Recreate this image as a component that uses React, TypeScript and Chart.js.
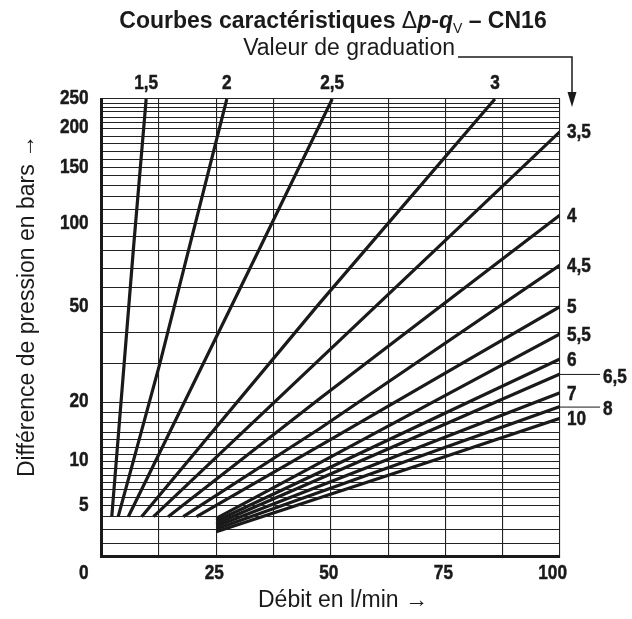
import React, { useEffect, useRef } from 'react';
import { Chart, LinearScale, registerables } from 'chart.js';

// ---------------- data ----------------
// Graduation values (curve labels)
const GRADUATIONS = ['1,5', '2', '2,5', '3', '3,5', '4', '4,5', '5', '5,5', '6', '6,5', '7', '8', '10'];

// Flow q_V (l/min) and pressure difference Δp (bar) for each curve
const Q_1_5 = [2.2, 6.9, 9.7];
const P_1_5 = [4, 80.7, 250];
const Q_2 = [3.6, 12.7, 27.3];
const P_2 = [4, 30.2, 250];
const Q_2_5 = [5.8, 34.3, 50.3];
const P_2_5 = [4, 80.7, 250];
const Q_3 = [8.7, 47.6, 85.8];
const P_3 = [4, 52.1, 250];
const Q_3_5 = [11.3, 75.1, 100];
const P_3_5 = [4, 87.9, 195.9];
const Q_4 = [14.5, 47.6, 100];
const P_4 = [4, 21.0, 106.1];
const Q_4_5 = [17.8, 47.6, 100];
const P_4_5 = [4, 14.8, 71.9];
const Q_5 = [20.7, 50, 100];
const P_5 = [4, 13.1, 50.2];
const Q_5_5 = [25, 75, 100];
const P_5_5 = [3.88, 21.8, 39.7];
const Q_6 = [25, 75, 100];
const P_6 = [3.68, 18.0, 31.6];
const Q_6_5 = [25, 75, 100];
const P_6_5 = [3.47, 15.7, 27.4];
const Q_7 = [25, 75, 100];
const P_7 = [3.28, 13.4, 22.5];
const Q_8 = [25, 75, 100];
const P_8 = [3.08, 12.0, 19.2];
const Q_10 = [25, 75, 100];
const P_10 = [2.87, 10.7, 16.9];

const SERIES_Q = [Q_1_5, Q_2, Q_2_5, Q_3, Q_3_5, Q_4, Q_4_5, Q_5, Q_5_5, Q_6, Q_6_5, Q_7, Q_8, Q_10];
const SERIES_P = [P_1_5, P_2, P_2_5, P_3, P_3_5, P_4, P_4_5, P_5, P_5_5, P_6, P_6_5, P_7, P_8, P_10];

// Labels placed at the end of a leader line
const LEADER_LABELS = ['6,5', '8'];

// Axis ticks
const X_TICK_LABELS = [0, 25, 50, 75, 100];
const X_GRID_STEP = 12.5;
const Y_TICK_LABELS = [5, 10, 20, 50, 100, 150, 200, 250];
const Y_GRID_VALUES = [1, 2, 3, 4, 5, 5.5, 6, 7, 8, 9, 10, 11, 12, 13, 14, 16, 18, 20, 30, 40, 50, 60, 70, 80, 90, 100,
  110, 120, 130, 140, 150, 160, 170, 180, 190, 200, 210, 220, 230, 240, 245, 250];

// ---------------- nomogram (non-linear) pressure scale ----------------
// Relative height of each grid value on the printed pressure axis (0 = bottom, 1 = top)
const Y_SCALE_FRACTIONS = [0, .0289, .0579, .0870, .1104, .1290, .1464, .1617, .1770, .1923, .2077, .2234, .2387, .2546,
  .2710, .2929, .3137, .3370, .4208, .4885, .5454, .5880, .6299, .6678, .6984, .7268, .7589, .7869, .8109, .8317,
  .8498, .8667, .8848, .9016, .9180, .9360, .9482, .9596, .9716, .9814, .9908, 1];

function valueToDecimal(v: number): number {
  const vs = Y_GRID_VALUES, fs = Y_SCALE_FRACTIONS;
  const n = vs.length - 1;
  let i = 1;
  if (v > vs[n]) i = n;
  else while (i < n && v > vs[i]) i++;
  const t = (v - vs[i - 1]) / (vs[i] - vs[i - 1]);
  return fs[i - 1] + t * (fs[i] - fs[i - 1]);
}
function decimalToValue(d: number): number {
  const vs = Y_GRID_VALUES, fs = Y_SCALE_FRACTIONS;
  const n = fs.length - 1;
  let i = 1;
  if (d > fs[n]) i = n;
  else while (i < n && d > fs[i]) i++;
  const t = (d - fs[i - 1]) / (fs[i] - fs[i - 1]);
  return vs[i - 1] + t * (vs[i] - vs[i - 1]);
}

class NomogramScale extends LinearScale {
  static id = 'nomogram';
  static defaults = {};
  buildTicks() {
    return Y_GRID_VALUES.map((value) => ({ value }));
  }
  getPixelForValue(value: number) {
    return this.getPixelForDecimal(valueToDecimal(value));
  }
  getValueForPixel(pixel: number) {
    return decimalToValue(this.getDecimalForPixel(pixel));
  }
}

Chart.register(...registerables, NomogramScale);

const SANS = "'Liberation Sans', Arial, Helvetica, sans-serif";
const INK = '#1a1a1a';
const NARROW_FONT = `bold 21px ${SANS}`;
const NARROW_SCALE = 0.82;

function narrowText(ctx: CanvasRenderingContext2D, text: string, x: number, y: number, align: CanvasTextAlign) {
  ctx.save();
  ctx.translate(x, y);
  ctx.scale(NARROW_SCALE, 1);
  ctx.font = NARROW_FONT;
  ctx.textAlign = align;
  ctx.textBaseline = 'middle';
  ctx.lineWidth = 0.5;
  ctx.lineJoin = 'round';
  ctx.fillText(text, 0, 0);
  ctx.strokeText(text, 0, 0);
  ctx.restore();
}

const annotations = {
  id: 'annotations',
  afterDraw(chart: any) {
    const ctx: CanvasRenderingContext2D = chart.ctx;
    const { left, right, top, bottom } = chart.chartArea;
    const xs = chart.scales.x;
    const ys = chart.scales.y;
    ctx.save();
    ctx.fillStyle = INK;
    ctx.strokeStyle = INK;

    // curve labels
    chart.data.datasets.forEach((ds: any) => {
      const last = ds.data[ds.data.length - 1];
      const px = xs.getPixelForValue(last.x);
      const py = ys.getPixelForValue(last.y);
      if (last.x < xs.max) {
        narrowText(ctx, ds.label, px, top - 16, 'center');
      } else if (LEADER_LABELS.includes(ds.label)) {
        ctx.lineWidth = 1;
        ctx.beginPath();
        ctx.moveTo(right, py + 0.5);
        ctx.lineTo(right + 40, py + 0.5);
        ctx.stroke();
        narrowText(ctx, ds.label, right + 43, py + 3, 'left');
      } else {
        narrowText(ctx, ds.label, right + 7, py + 1, 'left');
      }
    });

    // y tick labels
    Y_TICK_LABELS.forEach((v) => {
      narrowText(ctx, String(v), left - 13, ys.getPixelForValue(v) - 1, 'right');
    });

    // x tick labels
    X_TICK_LABELS.forEach((v) => {
      const px = xs.getPixelForValue(v);
      if (v === xs.min) narrowText(ctx, String(v), left - 13, bottom + 17, 'right');
      else if (v === xs.max) narrowText(ctx, String(v), px + 7, bottom + 17, 'right');
      else narrowText(ctx, String(v), px - 2, bottom + 17, 'center');
    });

    // main title with mixed styles
    const size = 23;
    const parts = [
      { t: 'Courbes caractéristiques ', f: `bold ${size}px ${SANS}`, dy: 0 },
      { t: 'Δ', f: `${size}px ${SANS}`, dy: 0 },
      { t: 'p', f: `italic bold ${size}px ${SANS}`, dy: 0 },
      { t: '-', f: `bold ${size}px ${SANS}`, dy: 0 },
      { t: 'q', f: `italic bold ${size}px ${SANS}`, dy: 0 },
      { t: 'V', f: `${Math.round(size * 0.6)}px ${SANS}`, dy: 5 },
      { t: ' – CN16', f: `bold ${size}px ${SANS}`, dy: 0 },
    ];
    let total = 0;
    parts.forEach((p) => { ctx.font = p.f; total += ctx.measureText(p.t).width; });
    let x = 333 - total / 2;
    ctx.textAlign = 'left';
    ctx.textBaseline = 'alphabetic';
    parts.forEach((p) => {
      ctx.font = p.f;
      ctx.fillText(p.t, x, 28 + p.dy);
      x += ctx.measureText(p.t).width;
    });

    // "Valeur de graduation" with arrow to the right-hand labels
    ctx.font = `23px ${SANS}`;
    ctx.textAlign = 'right';
    ctx.fillText('Valeur de graduation', 455, 55);
    const ax = right + 12;
    ctx.lineWidth = 1.5;
    ctx.beginPath();
    ctx.moveTo(458, 57);
    ctx.lineTo(ax, 57);
    ctx.lineTo(ax, 94);
    ctx.stroke();
    ctx.beginPath();
    ctx.moveTo(ax - 4.5, 92);
    ctx.lineTo(ax + 4.5, 92);
    ctx.lineTo(ax, 107);
    ctx.closePath();
    ctx.fill();

    // axis titles
    ctx.font = `23px ${SANS}`;
    ctx.textAlign = 'center';
    ctx.textBaseline = 'middle';
    ctx.fillText('Débit en l/min →', 343, 601);
    ctx.save();
    ctx.translate(28, 306);
    ctx.rotate(-Math.PI / 2);
    ctx.fillText('Différence de pression en bars →', 0, 0);
    ctx.restore();

    ctx.restore();
  },
};

export default function App() {
  const ref = useRef<HTMLCanvasElement>(null);
  useEffect(() => {
    document.body.style.margin = '0';
    const datasets = GRADUATIONS.map((label, i) => ({
      label,
      data: SERIES_Q[i].map((q, j) => ({ x: q, y: SERIES_P[i][j] })),
      borderColor: INK,
      borderWidth: 3.2,
      pointRadius: 0,
      tension: 0,
      fill: false,
    }));
    const chart = new Chart(ref.current as HTMLCanvasElement, {
      type: 'line',
      data: { datasets },
      options: {
        animation: false,
        responsive: false,
        devicePixelRatio: 1,
        layout: { padding: { top: 99, right: 72, left: 0, bottom: 0 } },
        plugins: { legend: { display: false }, tooltip: { enabled: false }, title: { display: false } },
        scales: {
          x: {
            type: 'linear',
            min: 0,
            max: 100,
            afterFit: (s: any) => { s.height = 62.5; },
            ticks: { display: false, stepSize: X_GRID_STEP },
            grid: { color: '#222', lineWidth: 1.1, drawTicks: false },
            border: { display: true, color: INK, width: 3 },
          },
          y: {
            type: 'nomogram' as any,
            min: 1,
            max: 250,
            afterFit: (s: any) => { s.width = 101.7; },
            ticks: { display: false, autoSkip: false },
            grid: { color: '#222', lineWidth: 1.1, drawTicks: false },
            border: { display: true, color: INK, width: 3 },
          },
        },
      } as any,
      plugins: [annotations],
    });
    return () => chart.destroy();
  }, []);
  return (
    <div style={{ position: 'absolute', left: 0, top: 0, width: 632, height: 619 }}>
      <canvas ref={ref} width={632} height={619} style={{ display: 'block', width: 632, height: 619 }} />
    </div>
  );
}
